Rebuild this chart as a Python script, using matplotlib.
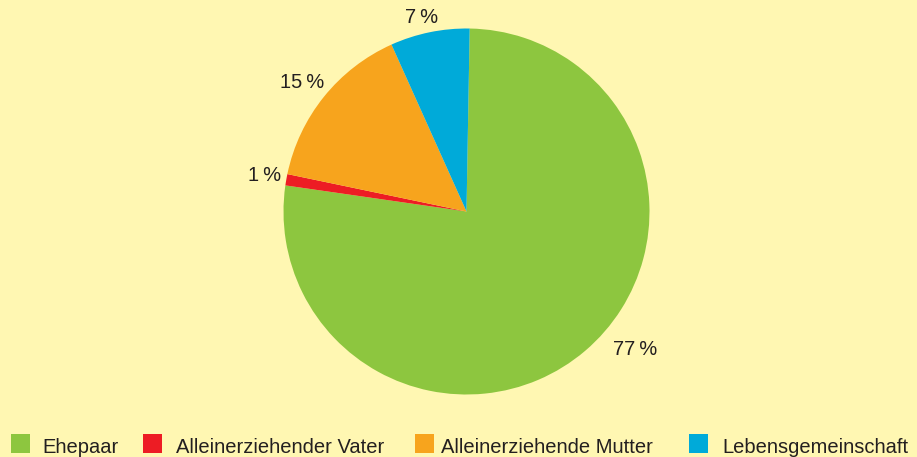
import numpy as np
import matplotlib
matplotlib.use("Agg")
import matplotlib.pyplot as plt
from matplotlib.patches import Rectangle

# data
labels = ["Ehepaar", "Alleinerziehender Vater", "Alleinerziehende Mutter", "Lebensgemeinschaft"]
values = [77, 1, 15, 7]
colors = ["#8DC63F", "#ED1C24", "#F7A41D", "#00AAD9"]
pct_labels = ["77\u2009%", "1\u2009%", "15\u2009%", "7\u2009%"]

# label placement (distance from centre in radii, angle shift in degrees)
label_dist = [1.19, 1.12, 1.14, 1.09]
label_shift = [10.2, 0, 0.6, 1.4]

bg = "#FFF7B2"
txt = "#231F20"
fs = 14.5
plt.rcParams["font.family"] = ["Liberation Sans", "DejaVu Sans"]

W, H = 917, 457
fig = plt.figure(figsize=(W / 100, H / 100), dpi=100, facecolor=bg)

cx, cy, r = 466.5, 211.5, 183
ax = fig.add_axes([(cx - r) / W, (H - cy - r) / H, 2 * r / W, 2 * r / H])
ax.set_facecolor(bg)
wedges, _ = ax.pie(values, colors=colors, startangle=89, counterclock=False,
                   radius=1, wedgeprops=dict(linewidth=0))
ax.set_xlim(-1, 1)
ax.set_ylim(-1, 1)
ax.axis("off")

for w, lab, d, s in zip(wedges, pct_labels, label_dist, label_shift):
    ang = np.deg2rad((w.theta1 + w.theta2) / 2 + s)
    ax.text(d * np.cos(ang), d * np.sin(ang), lab, ha="center", va="center",
            fontsize=fs, color=txt, clip_on=False)

# legend drawn by hand (pixel positions)
sq_x = [11, 143, 415, 689]
tx_x = [42, 176, 441, 722]
for x, t, lab, c in zip(sq_x, tx_x, labels, colors):
    fig.patches.append(Rectangle((x / W, (H - 453) / H), 19 / W, 19 / H,
                                 transform=fig.transFigure, color=c, lw=0))
    fig.text(t / W, (H - 453) / H, lab, ha="left", va="baseline",
             fontsize=fs, color=txt)

fig.savefig("out.png", dpi=100, facecolor=bg)
